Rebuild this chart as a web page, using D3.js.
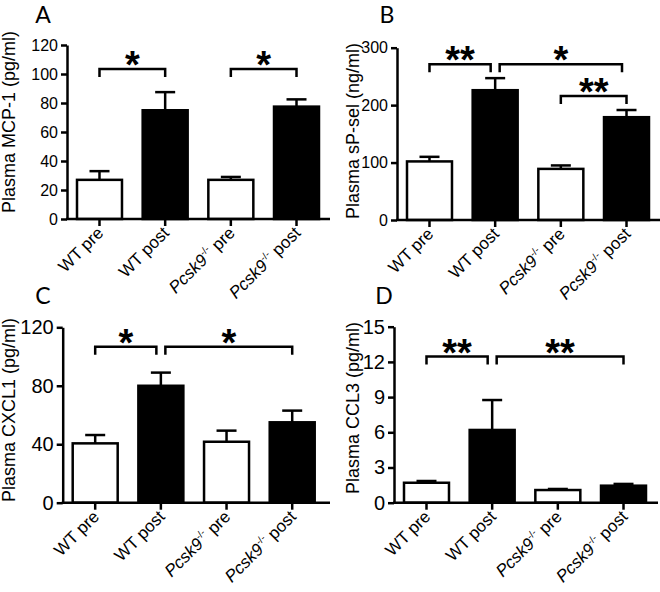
<!DOCTYPE html>
<html><head><meta charset="utf-8">
<script src="https://cdn.jsdelivr.net/npm/d3@7"></script>
<style>body{margin:0;background:#fff}svg{display:block}</style>
</head><body>
<svg id="c" width="660" height="592"></svg>
<script>
// ---------------- data ----------------
const categories = ["WT pre", "WT post", "Pcsk9-/- pre", "Pcsk9-/- post"];

const mcp1Mean = [27, 75, 27, 77.5];
const mcp1Sem = [6, 12.5, 2, 5];
const spselMean = [102, 226, 89, 179];
const spselSem = [8, 21, 6, 12.5];
const cxcl1Mean = [40.6, 80, 41.7, 55];
const cxcl1Sem = [5.7, 9, 7.6, 8];
const ccl3Mean = [1.7, 6.2, 1.08, 1.45];
const ccl3Sem = [0.15, 2.55, 0.09, 0.15];

const mcp1Ticks = [0, 20, 40, 60, 80, 100, 120];
const spselTicks = [0, 100, 200, 300];
const cxcl1Ticks = [0, 40, 80, 120];
const ccl3Ticks = [0, 3, 6, 9, 12, 15];

// [from, to, level, label]
const mcp1Brackets = [[0, 1, 103.5, "*"], [2, 3, 103.5, "*"]];
const spselBrackets = [[0, 1, 271, "**"], [1, 3, 271, "*"], [2, 3, 216, "**"]];
const cxcl1Brackets = [[0, 1, 106.7, "*"], [1, 3, 106.7, "*"]];
const ccl3Brackets = [[0, 1, 12.45, "**"], [1, 3, 12.45, "**"]];

const panelLetters = ["A", "B", "C", "D"];
const yTitles = ["Plasma MCP-1 (pg/ml)", "Plasma sP-sel (ng/ml)", "Plasma CXCL1 (pg/ml)", "Plasma CCL3 (pg/ml)"];

// ---------------- layout ----------------
const panels = [
  {mean: mcp1Mean, sem: mcp1Sem, ticks: mcp1Ticks, brackets: mcp1Brackets,
   left: 67, y0: 219, yTop: 45, right: 330, tickFont: 16, titleX: 15, titleY: 122, letterX: 43, letterY: 23},
  {mean: spselMean, sem: spselSem, ticks: spselTicks, brackets: spselBrackets,
   left: 397, y0: 220, yTop: 47.7, right: 660, tickFont: 16, titleX: 359, titleY: 131, letterX: 387, letterY: 23},
  {mean: cxcl1Mean, sem: cxcl1Sem, ticks: cxcl1Ticks, brackets: cxcl1Brackets,
   left: 62.7, y0: 502.7, yTop: 327.3, right: 330, tickFont: 20, titleX: 15, titleY: 410, letterX: 43, letterY: 304},
  {mean: ccl3Mean, sem: ccl3Sem, ticks: ccl3Ticks, brackets: ccl3Brackets,
   left: 394, y0: 502.7, yTop: 326.7, right: 658, tickFont: 20, titleX: 359, titleY: 408, letterX: 384, letterY: 304}
];

const svg = d3.select("#c");
const FONT = "'Liberation Sans', Arial, sans-serif";
const SW = 2.5;

panels.forEach((p, pi) => {
  const g = svg.append("g");
  const maxV = p.ticks[p.ticks.length - 1];
  const y = d3.scaleLinear().domain([0, maxV]).range([p.y0, p.yTop]);
  const x = d3.scaleBand().domain(d3.range(categories.length))
    .range([p.left + 10, p.left + 252]).paddingInner(0.315).paddingOuter(0);
  const bw = x.bandwidth();
  const cx = i => x(i) + bw / 2;

  // error bars
  p.mean.forEach((m, i) => {
    const top = y(m + p.sem[i]);
    g.append("line").attr("x1", cx(i)).attr("x2", cx(i)).attr("y1", y(m)).attr("y2", top)
      .attr("stroke", "#000").attr("stroke-width", SW);
    g.append("line").attr("x1", cx(i) - 10).attr("x2", cx(i) + 10).attr("y1", top).attr("y2", top)
      .attr("stroke", "#000").attr("stroke-width", SW);
  });

  // bars
  g.selectAll("rect.bar").data(p.mean).join("rect").attr("class", "bar")
    .attr("x", (d, i) => x(i)).attr("width", bw)
    .attr("y", d => y(d)).attr("height", d => p.y0 - y(d))
    .attr("fill", (d, i) => i % 2 ? "#000" : "#fff")
    .attr("stroke", "#000").attr("stroke-width", SW);

  // y axis
  const ya = g.append("g").attr("transform", `translate(${p.left},0)`)
    .call(d3.axisLeft(y).tickValues(p.ticks).tickSize(6).tickSizeOuter(0).tickPadding(3));
  ya.select(".domain").attr("stroke-width", SW);
  ya.selectAll(".tick line").attr("stroke-width", SW);
  ya.selectAll(".tick text").attr("font-family", FONT).attr("font-size", p.tickFont).attr("fill", "#000");

  // x axis
  g.append("line").attr("x1", p.left - 1).attr("x2", p.right).attr("y1", p.y0).attr("y2", p.y0)
    .attr("stroke", "#000").attr("stroke-width", SW);
  const xa = g.append("g").attr("transform", `translate(0,${p.y0})`)
    .call(d3.axisBottom(x).tickSize(7).tickSizeOuter(0).tickFormat(""));
  xa.select(".domain").remove();
  xa.selectAll(".tick line").attr("stroke-width", SW);

  // category labels
  categories.forEach((c, i) => {
    const t = g.append("text")
      .attr("transform", `translate(${cx(i) + 5},${p.y0 + 15}) rotate(-45)`)
      .attr("text-anchor", "end").attr("font-family", FONT).attr("font-size", 17).attr("fill", "#000");
    if (c.startsWith("Pcsk9-/-")) {
      t.append("tspan").attr("font-style", "italic").text("Pcsk9");
      t.append("tspan").attr("font-size", 10).attr("dy", -7).text("-/-");
      t.append("tspan").attr("dy", 7).text(c.slice(8));
    } else {
      t.text(c);
    }
  });

  // y title
  g.append("text").attr("transform", `translate(${p.titleX},${p.titleY}) rotate(-90)`)
    .attr("text-anchor", "middle").attr("font-family", FONT).attr("font-size", 18).attr("fill", "#000")
    .text(yTitles[pi]);

  // panel letter
  g.append("text").attr("x", p.letterX).attr("y", p.letterY).attr("text-anchor", "middle")
    .attr("font-family", "Lato, 'Open Sans', sans-serif").attr("font-size", 23).attr("fill", "#000")
    .text(panelLetters[pi]);

  // significance brackets
  p.brackets.forEach((b, bi) => {
    const [a, e, lv, lab] = b;
    let xa1 = cx(a), xb1 = cx(e);
    p.brackets.forEach((o, oi) => {
      if (oi === bi) return;
      if (o[0] === e && o[1] !== e) xb1 -= 4.5;
      if (o[1] === a && o[0] !== a) xa1 += 4.5;
      if (o[1] === e && o[2] < lv) xb1 -= 4.5;
    });
    const yy = y(lv);
    g.append("path").attr("d", `M${xa1},${yy + 8}V${yy}H${xb1}V${yy + 8}`)
      .attr("fill", "none").attr("stroke", "#000").attr("stroke-width", SW);
    g.append("text").attr("x", (xa1 + xb1) / 2).attr("y", yy + 9).attr("text-anchor", "middle")
      .attr("font-family", FONT).attr("font-weight", "bold").attr("font-size", 38).attr("fill", "#000")
      .text(lab);
  });
});
</script>
</body></html>
